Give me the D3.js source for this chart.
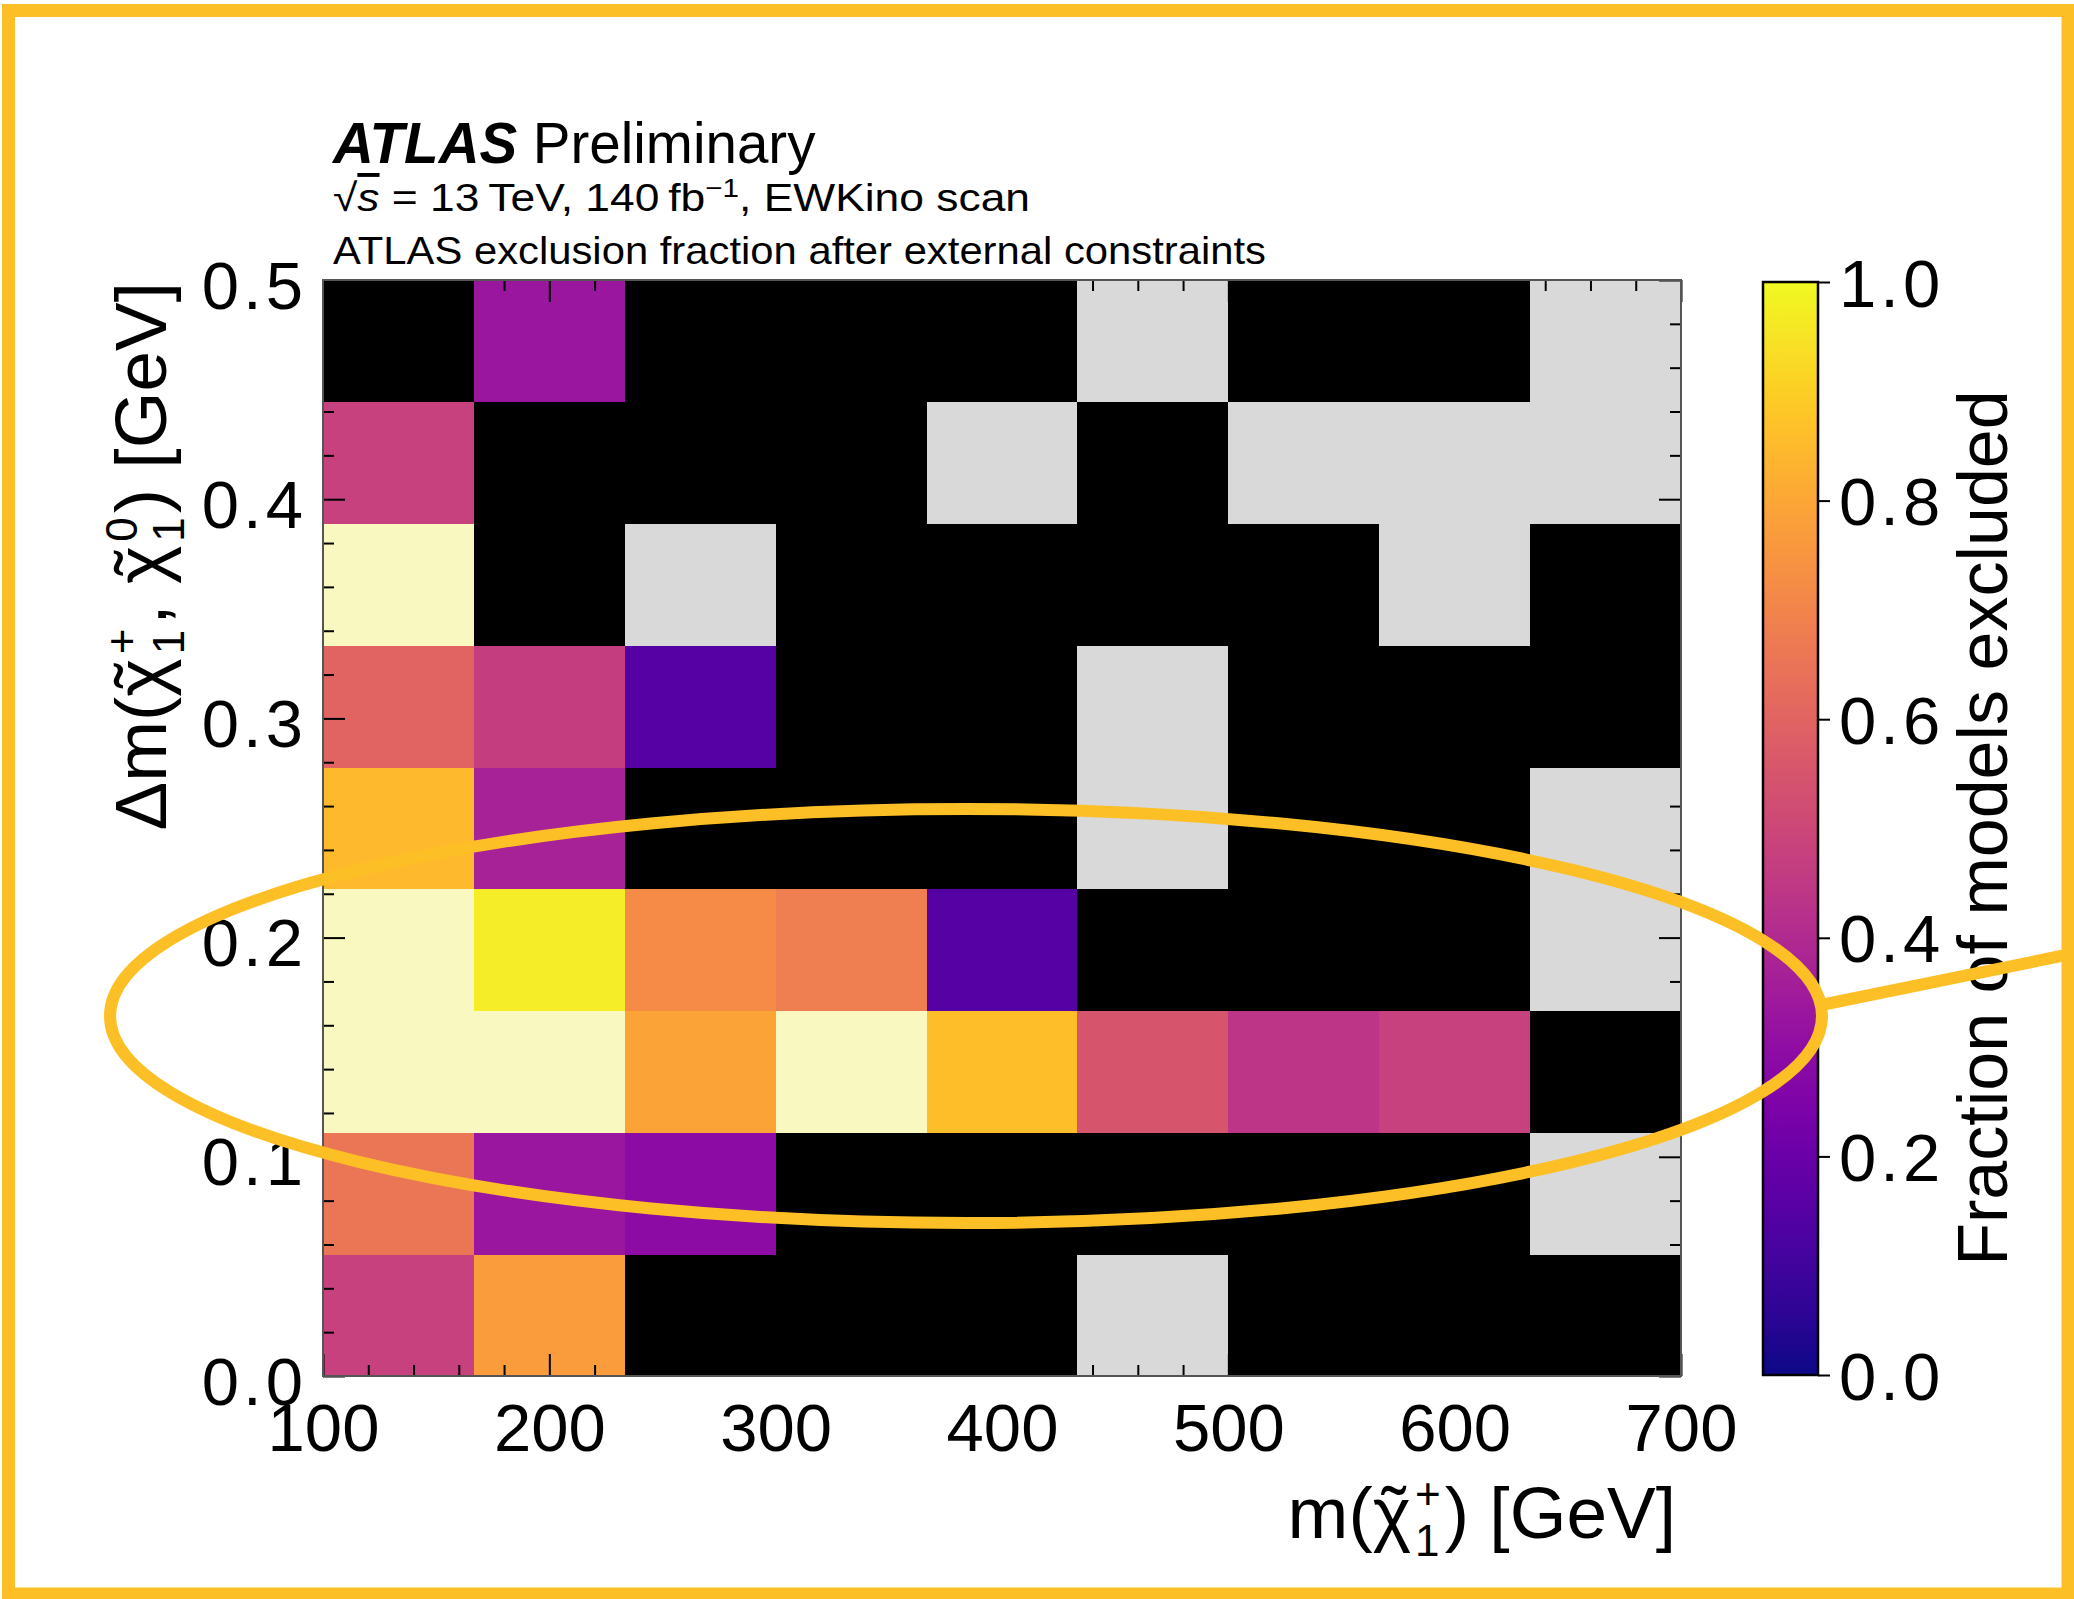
<!DOCTYPE html>
<html>
<head>
<meta charset="utf-8">
<script src="https://cdn.jsdelivr.net/npm/d3@7"></script>
<style>
  html, body { margin: 0; padding: 0; background: #fff; }
  svg { display: block; }
  text { font-family: "Liberation Sans", Arial, Helvetica, sans-serif; fill: #000; }
</style>
</head>
<body>
<svg id="chart" width="2074" height="1599"></svg>
<script>
// Bin edges of the chargino-mass / mass-splitting scan
const massEdges = [100, 166.67, 233.33, 300, 366.67, 433.33, 500, 566.67, 633.33, 700];
const dmEdges = [0, 0.0556, 0.1111, 0.1667, 0.2222, 0.2778, 0.3333, 0.3889, 0.4444, 0.5];

// Fraction of models excluded per bin, one row per Δm bin (bottom to top).
// 0 = none excluded, 1 = all excluded, null = bin holds no models.
const row0 = [0.48, 0.77, 0, 0, 0, null, 0, 0, 0];
const row1 = [0.66, 0.33, 0.29, 0, 0, 0, 0, 0, null];
const row2 = [1, 1, 0.79, 1, 0.86, 0.55, 0.44, 0.48, 0];
const row3 = [1, 0.97, 0.72, 0.68, 0.15, 0, 0, 0, null];
const row4 = [0.85, 0.37, 0, 0, 0, null, 0, 0, null];
const row5 = [0.60, 0.47, 0.15, 0, 0, null, 0, 0, 0];
const row6 = [1, 0, null, 0, 0, 0, 0, null, 0];
const row7 = [0.48, 0, 0, 0, null, 0, null, null, null];
const row8 = [0, 0.33, 0, 0, 0, null, 0, 0, null];
const fractionRows = [row0, row1, row2, row3, row4, row5, row6, row7, row8];

// Tick values
const massMajorTicks = [100, 200, 300, 400, 500, 600, 700];
const massMinorTicks = [120, 140, 160, 180, 220, 240, 260, 280, 320, 340, 360, 380, 420, 440, 460, 480, 520, 540, 560, 580, 620, 640, 660, 680];
const dmMajorTicks = [0, 0.1, 0.2, 0.3, 0.4, 0.5];
const dmMinorTicks = [0.02, 0.04, 0.06, 0.08, 0.12, 0.14, 0.16, 0.18, 0.22, 0.24, 0.26, 0.28, 0.32, 0.34, 0.36, 0.38, 0.42, 0.44, 0.46, 0.48];
const colorTicks = [0, 0.2, 0.4, 0.6, 0.8, 1.0];

const svg = d3.select("#chart");
svg.append("rect").attr("width", 2074).attr("height", 1599).attr("fill", "#fff");

const plot = { left: 323, right: 1681, top: 280, bottom: 1376 };
const x = d3.scaleLinear().domain([100, 700]).range([plot.left, plot.right]);
const y = d3.scaleLinear().domain([0, 0.5]).range([plot.bottom, plot.top]);
const cbar = { left: 1763, right: 1818, top: 282, bottom: 1375 };
const cy = d3.scaleLinear().domain([0, 1]).range([cbar.bottom, cbar.top]);

function cellColor(v) {
  if (v === null) return "#d9d9d9";
  if (v === 0) return "#000000";
  if (v === 1) return "#f8f8c0";
  return d3.interpolatePlasma(v);
}

// Heat-map cells
const cells = [];
fractionRows.forEach((row, r) => row.forEach((v, c) => cells.push({ r, c, v })));
svg.append("g")
  .attr("shape-rendering", "crispEdges")
  .selectAll("rect")
  .data(cells)
  .join("rect")
  .attr("x", d => x(massEdges[d.c]))
  .attr("y", d => y(dmEdges[d.r + 1]))
  .attr("width", d => x(massEdges[d.c + 1]) - x(massEdges[d.c]) + 0.5)
  .attr("height", d => y(dmEdges[d.r]) - y(dmEdges[d.r + 1]) + 0.5)
  .attr("fill", d => cellColor(d.v));

// Axes with inward ticks on all four sides
const tickFont = 67;
function styleAxis(g) {
  g.select(".domain").remove();
  g.selectAll(".tick line").attr("stroke", "#000").attr("stroke-width", 2);
  g.selectAll(".tick text").attr("font-size", tickFont).attr("font-family", "Liberation Sans, Arial, sans-serif").attr("fill", "#000");
}
const majorLen = 22, minorLen = 11;

svg.append("g").attr("transform", `translate(0,${plot.bottom})`)
  .call(d3.axisBottom(x).tickValues(massMajorTicks).tickSize(-majorLen).tickPadding(27).tickFormat(d3.format("d")))
  .call(styleAxis);
svg.append("g").attr("transform", `translate(0,${plot.bottom})`)
  .call(d3.axisBottom(x).tickValues(massMinorTicks).tickSize(-minorLen).tickFormat(""))
  .call(styleAxis);
svg.append("g").attr("transform", `translate(0,${plot.top})`)
  .call(d3.axisTop(x).tickValues(massMajorTicks).tickSize(-majorLen).tickFormat(""))
  .call(styleAxis);
svg.append("g").attr("transform", `translate(0,${plot.top})`)
  .call(d3.axisTop(x).tickValues(massMinorTicks).tickSize(-minorLen).tickFormat(""))
  .call(styleAxis);

const leftAxis = svg.append("g").attr("transform", `translate(${plot.left},0)`)
  .call(d3.axisLeft(y).tickValues(dmMajorTicks).tickSize(-majorLen).tickPadding(16).tickFormat(d3.format(".1f")))
  .call(styleAxis);
leftAxis.selectAll(".tick text").attr("dy", "0.42em").attr("letter-spacing", 4);
svg.append("g").attr("transform", `translate(${plot.left},0)`)
  .call(d3.axisLeft(y).tickValues(dmMinorTicks).tickSize(-minorLen).tickFormat(""))
  .call(styleAxis);
svg.append("g").attr("transform", `translate(${plot.right},0)`)
  .call(d3.axisRight(y).tickValues(dmMajorTicks).tickSize(-majorLen).tickFormat(""))
  .call(styleAxis);
svg.append("g").attr("transform", `translate(${plot.right},0)`)
  .call(d3.axisRight(y).tickValues(dmMinorTicks).tickSize(-minorLen).tickFormat(""))
  .call(styleAxis);

// Plot frame
svg.append("rect")
  .attr("x", plot.left).attr("y", plot.top)
  .attr("width", plot.right - plot.left).attr("height", plot.bottom - plot.top)
  .attr("fill", "none").attr("stroke", "#555").attr("stroke-width", 2);

// Colour bar
const defs = svg.append("defs");
const grad = defs.append("linearGradient").attr("id", "plasmaGrad")
  .attr("x1", 0).attr("y1", 1).attr("x2", 0).attr("y2", 0);
d3.range(0, 1.0001, 0.05).forEach(t => {
  grad.append("stop").attr("offset", t).attr("stop-color", d3.interpolatePlasma(t));
});
svg.append("rect")
  .attr("x", cbar.left).attr("y", cbar.top)
  .attr("width", cbar.right - cbar.left).attr("height", cbar.bottom - cbar.top)
  .attr("fill", "url(#plasmaGrad)").attr("stroke", "#000").attr("stroke-width", 2.5);
const cAxis = svg.append("g").attr("transform", `translate(${cbar.right},0)`)
  .call(d3.axisRight(cy).tickValues(colorTicks).tickSize(12).tickPadding(9).tickFormat(d3.format(".1f")))
  .call(styleAxis);
cAxis.selectAll(".tick text").attr("dy", "0.36em").attr("letter-spacing", 4);

svg.append("text")
  .attr("transform", "translate(2007,828) rotate(-90)")
  .attr("text-anchor", "middle")
  .attr("font-size", 70)
  .text("Fraction of models excluded");

// Physics-style label in one <text>: plain runs, χ with a tilde accent and
// stacked super/subscripts. Right-aligned at (ax, ay), optionally rotated.
function physicsLabel(ax, ay, size, parts, angle) {
  const small = Math.round(size * 0.6);
  const probe = svg.append("text").attr("x", -9999).attr("y", -9999);
  const measure = (str, fs) => {
    probe.attr("font-size", fs).text(str);
    return probe.node().getComputedTextLength();
  };
  const pieces = [];
  let cx = 0;
  parts.forEach(p => {
    if (p.text !== undefined) {
      pieces.push({ s: p.text, fs: size, x: cx, y: 0 });
      cx += measure(p.text, size);
    } else if (p.chi) {
      const w = measure("\u03C7", size);
      const tw = measure("\u02DC", size);
      pieces.push({ s: "\u03C7", fs: size, x: cx, y: 0 });
      pieces.push({ s: "\u02DC", fs: size, x: cx + w * 0.55 - tw / 2, y: 0 });
      cx += w;
      const ws = measure(p.sup, small), wb = measure(p.sub, small);
      pieces.push({ s: p.sup, fs: small, x: cx + 4, y: -size * 0.40 });
      pieces.push({ s: p.sub, fs: small, x: cx + 4, y: size * 0.24 });
      cx += Math.max(ws, wb) + 8;
    }
  });
  probe.remove();
  const total = cx;
  const t = svg.append("text")
    .attr("transform", `translate(${ax},${ay}) rotate(${angle || 0})`)
    .attr("xml:space", "preserve");
  pieces.forEach(pc => {
    t.append("tspan").attr("x", pc.x - total).attr("y", pc.y).attr("font-size", pc.fs).text(pc.s);
  });
  return t;
}

// Axis titles
physicsLabel(1676, 1538, 73, [
  { text: "m(" },
  { chi: true, sup: "+", sub: "1" },
  { text: ")\u00A0[GeV]" }
]);
physicsLabel(166, 282, 73, [
  { text: "\u0394m(" },
  { chi: true, sup: "+", sub: "1" },
  { text: ",\u00A0" },
  { chi: true, sup: "0", sub: "1" },
  { text: ")\u00A0[GeV]" }
], -90);

// Experiment label block
const t1 = svg.append("text").attr("x", 333).attr("y", 163).attr("font-size", 56.5);
t1.append("tspan").attr("font-weight", "bold").attr("font-style", "italic").text("ATLAS");
t1.append("tspan").text(" Preliminary");

const t2 = svg.append("text").attr("x", 333).attr("y", 211).attr("font-size", 39)
  .attr("textLength", 697).attr("lengthAdjust", "spacingAndGlyphs");
t2.append("tspan").text("\u221A");
t2.append("tspan").attr("font-style", "italic").style("text-decoration", "overline").text("s");
t2.append("tspan").text(" = 13\u2009TeV, 140\u2009fb");
t2.append("tspan").attr("font-size", 26).attr("dy", -14).text("\u22121");
t2.append("tspan").attr("dy", 14).text(", EWKino scan");

svg.append("text").attr("x", 333).attr("y", 264).attr("font-size", 39)
  .attr("textLength", 933).attr("lengthAdjust", "spacingAndGlyphs")
  .text("ATLAS exclusion fraction after external constraints");

// Highlight ellipse around the low-Δm band and its pointer
const hl = "#fdbf26";
svg.append("ellipse")
  .attr("cx", 966).attr("cy", 1016).attr("rx", 856).attr("ry", 207)
  .attr("fill", "none").attr("stroke", hl).attr("stroke-width", 12);
svg.append("line")
  .attr("x1", 1826).attr("y1", 1004).attr("x2", 2066).attr("y2", 955)
  .attr("stroke", hl).attr("stroke-width", 12);

// Outer frame
svg.append("rect")
  .attr("x", 8.5).attr("y", 10.5).attr("width", 2059.5).attr("height", 1583.5)
  .attr("fill", "none").attr("stroke", hl).attr("stroke-width", 13);
</script>
</body>
</html>
